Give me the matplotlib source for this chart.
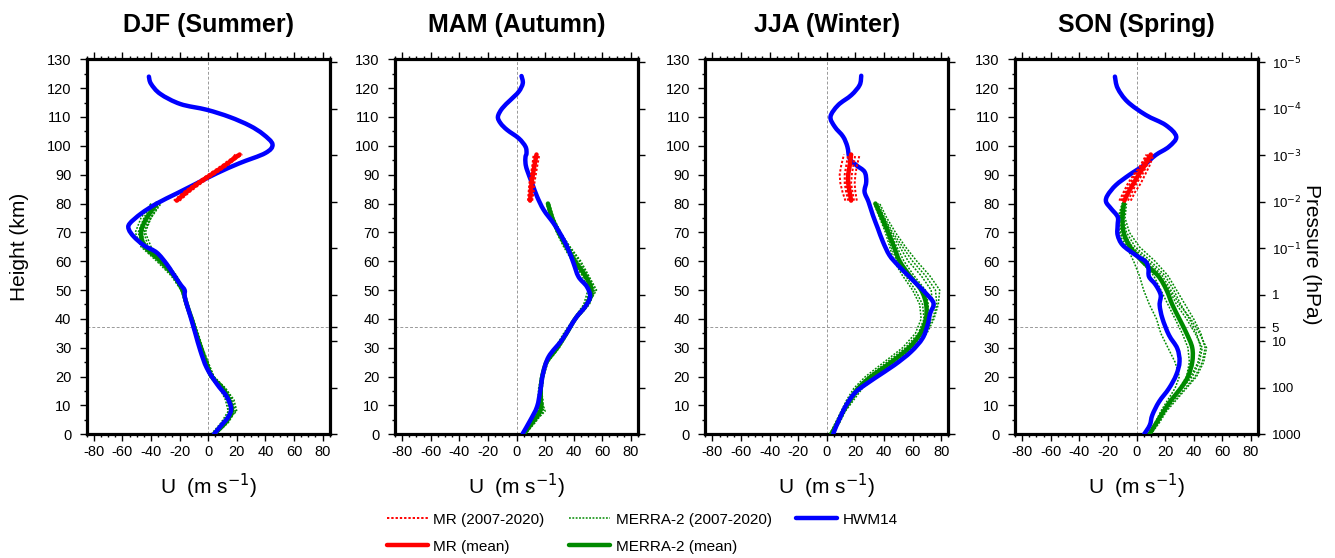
import numpy as np
import matplotlib
matplotlib.use("Agg")
import matplotlib.pyplot as plt
from matplotlib.ticker import MultipleLocator, FixedLocator
from matplotlib.lines import Line2D
from matplotlib.path import Path
from matplotlib.patches import PathPatch

plt.rcParams['font.family'] = ['Liberation Sans', 'DejaVu Sans']

# ---------------- data ----------------
SEASONS = ["DJF (Summer)", "MAM (Autumn)", "JJA (Winter)", "SON (Spring)"]

# MERRA-2 heights (km) and MR heights (km)
MERRA_Z = [0, 4, 8, 12, 16, 20, 25, 30, 35, 40, 45, 50, 55, 60, 65, 70, 75, 80]
MR_Z = [81, 84, 87, 90, 93, 97]

# HWM14 profiles
hwm_z_djf = [0, 3, 6, 9, 13, 17.5, 23, 29, 35, 41, 45, 48, 50, 52, 56, 59, 63, 65.5, 68.5,
             71, 73, 76.5, 80, 83.5, 87, 90.5, 94, 97.5, 100.5, 104, 107, 110, 112.5,
             114.5, 118, 121.5, 124]
hwm_u_djf = [4, 9, 14, 16, 13, 6, -1, -5.5, -9, -12.5, -15, -16.5, -16.5, -19.5, -25, -29,
             -36, -45, -52, -55.5, -55, -47, -36, -22, -8, 6, 22, 40, 45, 38.5, 29, 15, -1,
             -19.5, -33.5, -40, -41.5]

hwm_z_mam = [0.3, 4.9, 9.6, 15.3, 21.1, 26.9, 32.7, 37.3, 40.8, 44.2, 47.7, 51.2, 54.6,
             59.3, 63.9, 68.5, 73.1, 77.8, 82.4, 87, 91.6, 93.9, 96.2, 97.4, 99.7, 102.6,
             105.5, 107.8, 110.1, 113, 115.9, 118.8, 121.7, 124.2]
hwm_u_mam = [4.4, 9.7, 14.4, 16.7, 18.6, 22.5, 31.8, 37.6, 42.2, 48, 51.5, 49.2, 43.4,
             39.9, 36.4, 31.8, 26, 19, 14.4, 10.9, 7.4, 6.3, 6.3, 7, 6.3, 1.6,
             -6.5, -11.1, -13, -10, -4.2, 1.6, 4.4, 3.5]

hwm_z_jja = [0, 2.1, 5.5, 10.2, 14.8, 19.4, 24, 28.6, 33.3, 37.9, 41.9, 45.4, 48.9, 51.8,
             55.2, 58.7, 62.1, 66.8, 71.4, 76, 80.6, 84.1, 87.6, 91, 93.3, 95.6, 99.7,
             103.2, 106.6, 110.1, 114.1, 117.6, 121.1, 124.3]
hwm_u_jja = [4.4, 6, 9, 13.7, 20.6, 33.4, 47.3, 58.9, 67, 70.5, 72.3, 74.7, 69.3, 63.5,
             56.6, 49.6, 43.8, 39.2, 35.7, 32.2, 29.2, 26.4, 27.6, 26.4, 20.6, 16, 14.4,
             11.4, 5.6, 2.6, 7.9, 17.2, 23, 24.1]

hwm_z_son = [0, 3.2, 6.7, 11.3, 15.9, 20.6, 25.2, 29.8, 34.4, 40.2, 44.8, 48.3, 51.8,
             54.6, 57.5, 59.8, 62.1, 65.6, 69.1, 72.5, 75.4, 78.3, 80.6, 82.9, 86.4, 89.9,
             93.3, 96.8, 99.7, 103.2, 107.2, 110.7, 115.3, 120, 124]
hwm_u_son = [5.3, 9.3, 11.1, 15.8, 22.7, 27.8, 30.1, 28.5, 22.7, 18.1, 16.2, 16.9, 13.4,
             8.8, 8.3, 6.5, -0.5, -9.7, -13.2, -13.2, -13.2, -17.9, -21.3, -20.2, -14.4,
             -5.1, 5.3, 13.4, 22.7, 27.8, 20.4, 6.5, -6.3, -13.2, -15.1]

# MERRA-2 mean and individual years (2007-2020)
merra_mean_djf = [4, 12, 16.5, 14.5, 10, 2.5, -1.5, -5, -8.5, -11.5, -15, -18, -24, -33,
                  -44, -47, -43, -36]
merra_years_djf = [
    [5, 14, 19, 17, 12, 4, -0.5, -4, -7.5, -11, -14, -17, -22, -30, -40, -44, -40, -34],
    [2, 9, 14, 12, 8, 1, -3, -6, -9.5, -12.5, -16, -19, -26, -36, -47, -51, -47, -40],
    [4, 13, 18, 16, 11, 3.5, -1, -4.5, -8, -11, -14.5, -18.5, -23, -31, -42, -45, -40, -33],
    [3, 10, 15, 13, 9, 2, -2, -5.5, -9, -12, -15.5, -17, -25, -35, -46, -49, -45, -40],
    [5, 13, 17, 15, 11, 3, -1, -5, -8, -11.5, -14, -18, -24, -32, -43, -48, -44, -37],
    [3, 11, 20, 18, 12, 4, 0, -4, -7, -10.5, -15, -19, -24.5, -34, -45, -46, -41, -35],
]
merra_mean_mam = [5, 11, 16.5, 17, 17, 18, 21, 28.5, 35, 41, 49, 52.5, 48, 41, 35, 29.5, 25, 22]
merra_years_mam = [
    [6, 13, 19, 18, 18, 19, 22, 30, 36, 42, 51, 55, 50, 44, 37, 31, 26, 23],
    [3, 9, 14, 15, 15.5, 17, 20, 27, 33, 40, 47, 50, 46, 39, 33, 28, 24, 21],
    [5, 12, 18, 18.5, 17, 18, 21.5, 29, 35.5, 41.5, 50, 54, 49.5, 42.5, 36, 30, 25.5, 22.5],
    [4, 10, 15, 16, 16.5, 17.5, 20.5, 28, 34, 40.5, 48, 51.5, 47, 40, 34, 28.5, 24.5, 21.5],
    [6, 12, 20, 17.5, 17.5, 18.5, 21, 29.5, 35, 41, 50, 56, 50.5, 45, 37.5, 30.5, 25, 22],
    [4.5, 11.5, 17, 16.5, 17, 18, 21, 27.5, 34.5, 41, 49, 53, 48.5, 41.5, 35, 29, 24, 21],
]
merra_mean_jja = [3, 7.5, 11.5, 16.5, 22, 31, 45, 57.5, 65.5, 69.3, 69.5, 66, 58, 51, 47,
                  43, 38.5, 34]
merra_years_jja = [
    [4, 9, 13, 19, 25, 35, 50, 61, 70, 75, 78, 79, 72, 63, 55, 48, 42, 37],
    [2, 6, 10, 14, 19, 27, 40, 53, 62, 66, 65, 60, 53, 47, 44, 41, 37, 33],
    [3, 8, 12, 17, 23, 32, 46, 58, 67, 72, 74, 73, 66, 57, 51, 45, 40, 35],
    [3.5, 7, 11, 15.5, 21, 29, 42, 55, 64, 68, 67, 62, 55, 49, 45, 42, 38, 34],
    [2.5, 8, 12.5, 18, 24, 33, 48, 60, 69, 74, 77, 76, 69, 60, 53, 46, 40.5, 36],
    [3, 7, 11, 16, 22, 30, 44, 56, 66, 70.5, 71, 69, 61, 54, 49, 44, 39, 34.5],
]
merra_mean_son = [9, 14, 19, 24.5, 31, 36, 39, 39, 35, 30, 25, 21, 15, 4, -4.5, -9, -9.8, -8.8]
merra_years_son = [
    [9, 15, 20, 27, 34, 41, 46, 48, 45, 40, 34, 28, 22, 13, 2, -5, -8, -7],
    [8, 13, 18, 24, 31, 38, 43, 45, 42, 37, 31, 26, 20, 10, -1, -7, -9, -8],
    [10, 16, 21, 28, 35, 42, 47, 49, 44, 38, 30, 24, 18, 8, -3, -9, -11, -9],
    [8, 14, 19, 25, 32, 39, 44, 46, 41, 35, 28, 23, 16, 6, -5, -12, -13, -10],
    [9, 14, 19, 24, 30, 35, 37, 36, 32, 27, 22, 17, 12, 3, -6, -11, -12, -9],
    [8, 13, 17, 22, 27, 30, 27, 22, 17, 14, 9, 5, 2, -2, -7, -13, -12, -10],
]

# MR mean and individual years
mr_mean_djf = [-22, -15, -7, 2, 11, 22]
mr_years_djf = [[-24, -17, -9, 0, 9, 20], [-20, -13, -5, 4, 13, 23],
                [-23, -16, -8, 1, 10, 24], [-21, -14, -6, 3, 12, 21],
                [-22, -14, -6.5, 2.5, 12, 19]]
mr_mean_mam = [9.5, 10, 10.5, 11.5, 12.5, 14]
mr_years_mam = [[8, 8.5, 9, 10, 11, 12], [11, 12, 12.5, 13.5, 14.5, 16],
                [9, 9.5, 10, 11, 12.5, 15], [10.5, 11, 11.5, 12, 13, 13],
                [8.5, 9, 9.5, 10.5, 11.5, 12.5]]
mr_mean_jja = [17, 16, 15, 15, 16, 17]
mr_years_jja = [[13, 11, 9.5, 9, 10, 12], [21, 20, 19.5, 20, 21, 23],
                [15, 13.5, 12.5, 12.5, 13.5, 15], [19, 18, 17, 17.5, 18.5, 20],
                [16, 14.5, 13.5, 14, 15, 18]]
mr_mean_son = [-8.5, -5.5, -2, 1.5, 5.5, 10]
mr_years_son = [[-12, -9, -6, -2, 3, 9], [-4, -1, 3, 6, 9, 12],
                [-10, -7, -3, 0, 4, 8], [-6, -3, 0, 4, 7, 11],
                [-11, -8, -4.5, -1, 2.5, 7]]

# pressure axis labels (hPa)
P_LEVELS = [1e-5, 1e-4, 1e-3, 1e-2, 1e-1, 1, 5, 10, 100, 1000]
P_LABELS = ["10$^{-5}$", "10$^{-4}$", "10$^{-3}$", "10$^{-2}$", "10$^{-1}$",
            "1", "5", "10", "100", "1000"]

hwm = [(hwm_z_djf, hwm_u_djf), (hwm_z_mam, hwm_u_mam), (hwm_z_jja, hwm_u_jja), (hwm_z_son, hwm_u_son)]
merra = [(merra_mean_djf, merra_years_djf), (merra_mean_mam, merra_years_mam),
         (merra_mean_jja, merra_years_jja), (merra_mean_son, merra_years_son)]
mr = [(mr_mean_djf, mr_years_djf), (mr_mean_mam, mr_years_mam),
      (mr_mean_jja, mr_years_jja), (mr_mean_son, mr_years_son)]

RED = '#ff0000'
GREEN = '#008a00'
BLUE = '#0000ff'
DOT = (0, (1.2, 1.0))


def curve(ax, u, z, **kw):
    # smooth line through the read points (Catmull-Rom as cubic Bezier), data coords
    pts = np.column_stack([u, z]).astype(float)
    verts = [pts[0]]
    codes = [Path.MOVETO]
    n = len(pts)
    for k in range(n - 1):
        p0 = pts[k - 1] if k > 0 else pts[k]
        p1, p2 = pts[k], pts[k + 1]
        p3 = pts[k + 2] if k + 2 < n else pts[k + 1]
        verts += [p1 + (p2 - p0) / 6, p2 - (p3 - p1) / 6, p2]
        codes += [Path.CURVE4] * 3
    ax.add_patch(PathPatch(Path(verts, codes), fill=False, capstyle='round',
                           joinstyle='round', **kw))


W, H = 1335, 558
fig = plt.figure(figsize=(W / 100, H / 100), dpi=100)

lefts = [86.7, 395.0, 705.3, 1015.0]
ax_w = 243.0
ax_top, ax_bot = 59.3, 434.3

# log-pressure height, scale height 7 km
p_heights = [7.0 * np.log(1000.0 / p) for p in P_LEVELS]

for i, season in enumerate(SEASONS):
    ax = fig.add_axes([lefts[i] / W, (H - ax_bot) / H, ax_w / W, (ax_bot - ax_top) / H])
    ax.set_xlim(-85, 85)
    ax.set_ylim(0, 130)

    ax.axvline(0, color='0.6', lw=0.7, ls=(0, (3, 2)), zorder=1)
    ax.axhline(p_heights[6], color='0.6', lw=0.7, ls=(0, (3, 2)), zorder=1)

    m_mean, m_years = merra[i]
    for yr in m_years:
        ax.plot(yr, MERRA_Z, color=GREEN, lw=1.1, ls=DOT, zorder=2)
    curve(ax, m_mean, MERRA_Z, edgecolor=GREEN, lw=3.2, zorder=3)

    hz, hu = hwm[i]
    curve(ax, hu, hz, edgecolor=BLUE, lw=3.2, zorder=4)

    r_mean, r_years = mr[i]
    for yr in r_years:
        ax.plot(yr, MR_Z, color=RED, lw=1.4, ls=DOT, zorder=5)
    curve(ax, r_mean, MR_Z, edgecolor=RED, lw=3.2, zorder=6)

    ax.xaxis.set_major_locator(MultipleLocator(20))
    ax.xaxis.set_minor_locator(MultipleLocator(5))
    ax.yaxis.set_major_locator(MultipleLocator(10))
    ax.yaxis.set_minor_locator(MultipleLocator(5))
    ax.tick_params(which='both', direction='out', top=True, right=False, width=1)
    ax.tick_params(which='major', length=5, labelsize=10.5)
    ax.tick_params(which='minor', length=2.5)
    ax.tick_params(axis='x', pad=3)
    ax.tick_params(axis='y', pad=6)
    ax.set_xticklabels([str(int(v)) for v in ax.get_xticks()])
    for s in ax.spines.values():
        s.set_linewidth(2.3)

    # pressure axis on the right
    ax2 = ax.twinx()
    ax2.set_ylim(0, 130)
    ax2.yaxis.set_major_locator(FixedLocator(p_heights))
    ax2.tick_params(direction='out', length=5, width=1, labelsize=9.5, pad=5)
    if i == 3:
        ax2.set_yticklabels(P_LABELS)
    else:
        ax2.set_yticklabels([])
    for s in ax2.spines.values():
        s.set_visible(False)

    ax.text(0.5, 1.0915, season, transform=ax.transAxes, ha='center', va='center',
            fontsize=18, fontweight='bold')
    ax.text(0.5, -0.138, "U  (m s$^{-1}$)", transform=ax.transAxes, ha='center',
            va='center', fontsize=15)

fig.text(20 / W, 1 - 247 / H, "Height (km)", rotation=90, ha='center', va='center', fontsize=15)
fig.text(1312 / W, 1 - 254 / H, "Pressure (hPa)", rotation=270, ha='center', va='center', fontsize=15)

handles = [
    Line2D([], [], color=RED, lw=1.4, ls=DOT),
    Line2D([], [], color=RED, lw=3.2, solid_capstyle='round'),
    Line2D([], [], color=GREEN, lw=1.1, ls=DOT),
    Line2D([], [], color=GREEN, lw=3.2, solid_capstyle='round'),
    Line2D([], [], color=BLUE, lw=3.2, solid_capstyle='round'),
]
labels = ["MR (2007-2020)", "MR (mean)", "MERRA-2 (2007-2020)", "MERRA-2 (mean)", "HWM14"]
fig.legend(handles, labels, ncol=3, loc='upper left', bbox_to_anchor=(376 / W, 1 - 502 / H),
           frameon=False, fontsize=11, handlelength=2.7, handletextpad=0.35,
           columnspacing=1.6, labelspacing=0.85, borderpad=0.2)

fig.savefig("out.png", dpi=100)
